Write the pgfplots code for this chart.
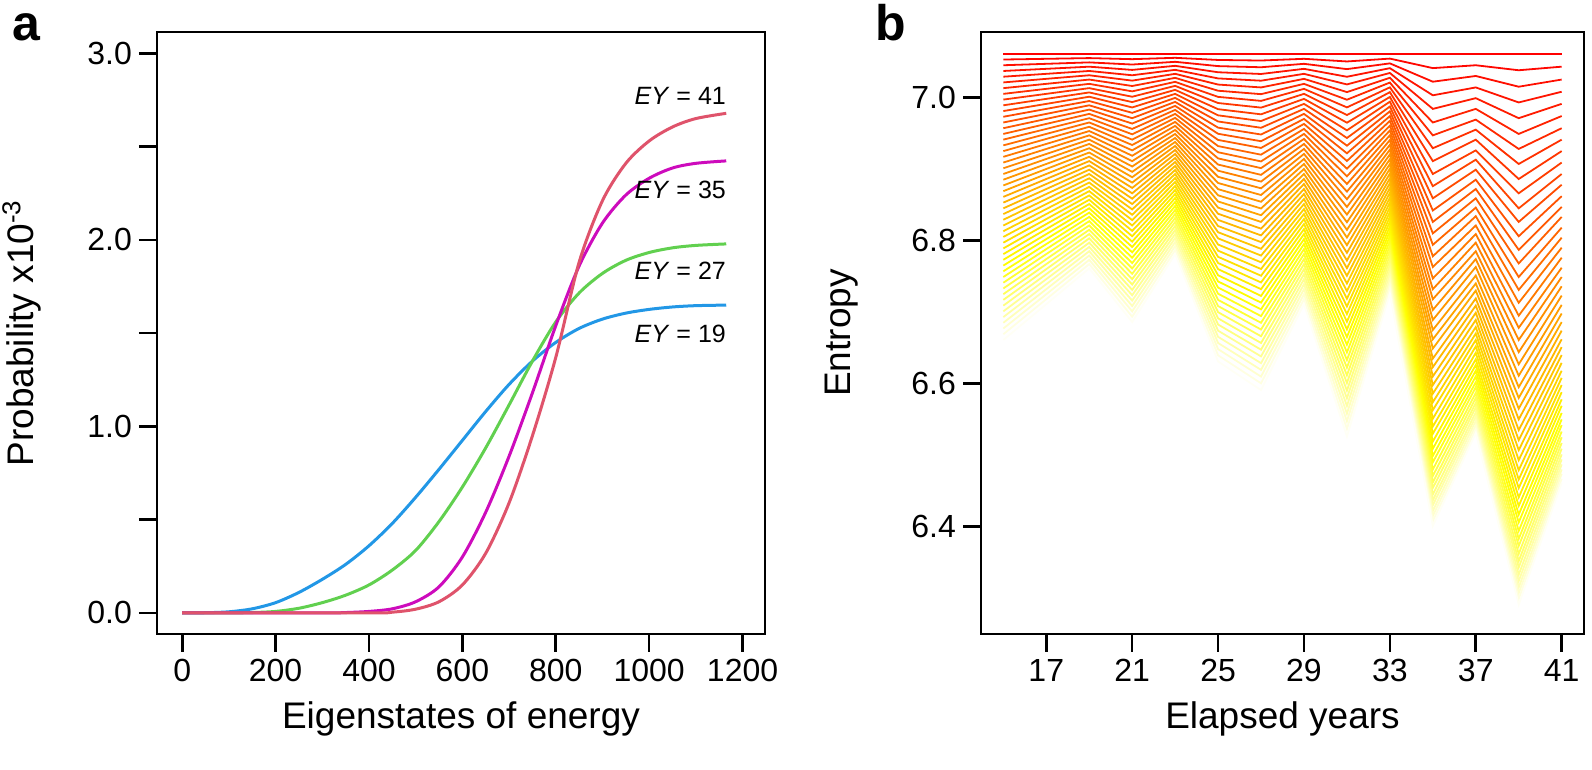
\documentclass[border=0pt]{standalone}
\usepackage{fontspec}
\setmainfont{Liberation Sans}
\usepackage{pgfplots}
\usepackage{pgfplotstable}
\pgfplotsset{compat=1.18}
\definecolor{cblue}{HTML}{2297E6}
\definecolor{cgreen}{HTML}{61D04F}
\definecolor{cmag}{HTML}{CD0BBC}
\definecolor{cred}{HTML}{DF536B}
\foreach \i in {0,...,50}{%
  \pgfmathsetmacro\gg{min(1,\i/37.5)}%
  \pgfmathsetmacro\bb{max(0,(\i-37.5)/12.5)*0.96}%
  \xglobal\definecolor{fan\i}{rgb}{1,\gg,\bb}%
}
\pgfplotstableread{
year c0 c1 c2 c3 c4 c5 c6 c7 c8 c9 c10 c11 c12 c13 c14 c15 c16 c17 c18 c19 c20 c21 c22 c23 c24 c25 c26 c27 c28 c29 c30 c31 c32 c33 c34 c35 c36 c37 c38 c39 c40 c41 c42 c43 c44 c45 c46 c47 c48 c49 c50
15 7.061 7.053 7.045 7.037 7.029 7.021 7.013 7.005 6.997 6.989 6.981 6.973 6.965 6.957 6.949 6.941 6.933 6.925 6.917 6.909 6.901 6.893 6.885 6.877 6.869 6.861 6.853 6.845 6.837 6.829 6.821 6.813 6.805 6.797 6.789 6.781 6.773 6.765 6.757 6.749 6.741 6.733 6.725 6.717 6.709 6.701 6.693 6.685 6.677 6.669 6.661
17 7.061 7.054 7.047 7.040 7.033 7.026 7.019 7.012 7.005 6.998 6.991 6.984 6.977 6.970 6.963 6.956 6.949 6.942 6.935 6.928 6.921 6.914 6.907 6.900 6.893 6.886 6.879 6.872 6.865 6.858 6.851 6.844 6.837 6.830 6.823 6.816 6.809 6.802 6.795 6.788 6.781 6.774 6.767 6.760 6.753 6.746 6.739 6.732 6.725 6.718 6.711
19 7.061 7.055 7.049 7.043 7.037 7.031 7.025 7.019 7.013 7.007 7.001 6.995 6.989 6.983 6.977 6.971 6.965 6.959 6.953 6.947 6.941 6.935 6.929 6.923 6.917 6.911 6.905 6.899 6.893 6.887 6.881 6.875 6.869 6.863 6.857 6.851 6.845 6.839 6.833 6.827 6.821 6.815 6.809 6.803 6.797 6.791 6.785 6.779 6.773 6.767 6.761
21 7.061 7.0535 7.046 7.0385 7.031 7.0235 7.016 7.0085 7.001 6.9935 6.986 6.9785 6.971 6.9635 6.956 6.9485 6.941 6.9335 6.926 6.9185 6.911 6.9035 6.896 6.8885 6.881 6.8735 6.866 6.8585 6.851 6.8435 6.836 6.8285 6.821 6.8135 6.806 6.7985 6.791 6.7835 6.776 6.7685 6.761 6.7535 6.746 6.7385 6.731 6.7235 6.716 6.7085 6.701 6.6935 6.686
23 7.061 7.0554 7.0498 7.0442 7.0386 7.033 7.0274 7.0218 7.0162 7.0106 7.005 6.9994 6.9938 6.9882 6.9826 6.977 6.9714 6.9658 6.9602 6.9546 6.949 6.9434 6.9378 6.9322 6.9266 6.921 6.9154 6.9098 6.9042 6.8986 6.893 6.8874 6.8818 6.8762 6.8706 6.865 6.8594 6.8538 6.8482 6.8426 6.837 6.8314 6.8258 6.8202 6.8146 6.809 6.8034 6.7978 6.7922 6.7866 6.781
25 7.061 7.0524 7.0438 7.0352 7.0266 7.018 7.0094 7.0008 6.9922 6.9836 6.975 6.9664 6.9578 6.9492 6.9406 6.932 6.9234 6.9148 6.9062 6.8976 6.889 6.8804 6.8718 6.8632 6.8546 6.846 6.8374 6.8288 6.8202 6.8116 6.803 6.7944 6.7858 6.7772 6.7686 6.76 6.7514 6.7428 6.7342 6.7256 6.717 6.7084 6.6998 6.6912 6.6826 6.674 6.6654 6.6568 6.6482 6.6396 6.631
27 7.061 7.0516 7.0422 7.0328 7.0234 7.014 7.0046 6.9952 6.9858 6.9764 6.967 6.9576 6.9482 6.9388 6.9294 6.92 6.9106 6.9012 6.8918 6.8824 6.873 6.8636 6.8542 6.8448 6.8354 6.826 6.8166 6.8072 6.7978 6.7884 6.779 6.7696 6.7602 6.7508 6.7414 6.732 6.7226 6.7132 6.7038 6.6944 6.685 6.6756 6.6662 6.6568 6.6474 6.638 6.6286 6.6192 6.6098 6.6004 6.591
29 7.061 7.054 7.047 7.040 7.033 7.026 7.019 7.012 7.005 6.998 6.991 6.984 6.977 6.970 6.963 6.956 6.949 6.942 6.935 6.928 6.921 6.914 6.907 6.900 6.893 6.886 6.879 6.872 6.865 6.858 6.851 6.844 6.837 6.830 6.823 6.816 6.809 6.802 6.795 6.788 6.781 6.774 6.767 6.760 6.753 6.746 6.739 6.732 6.725 6.718 6.711
31 7.061 7.0503 7.0396 7.0289 7.0182 7.0075 6.9968 6.9861 6.9754 6.9647 6.954 6.9433 6.9326 6.9219 6.9112 6.9005 6.8898 6.8791 6.8684 6.8577 6.847 6.8363 6.8256 6.8149 6.8042 6.7935 6.7828 6.7721 6.7614 6.7507 6.74 6.7293 6.7186 6.7079 6.6972 6.6865 6.6758 6.6651 6.6544 6.6437 6.633 6.6223 6.6116 6.6009 6.5902 6.5795 6.5688 6.5581 6.5474 6.5367 6.526
33 7.061 7.0543 7.0476 7.0409 7.0342 7.0275 7.0208 7.0141 7.0074 7.0007 6.994 6.9873 6.9806 6.9739 6.9672 6.9605 6.9538 6.9471 6.9404 6.9337 6.927 6.9203 6.9136 6.9069 6.9002 6.8935 6.8868 6.8801 6.8734 6.8667 6.86 6.8533 6.8466 6.8399 6.8332 6.8265 6.8198 6.8131 6.8064 6.7997 6.793 6.7863 6.7796 6.7729 6.7662 6.7595 6.7528 6.7461 6.7394 6.7327 6.726
35 7.061 7.041 7.022 7.003 6.984 6.965 6.947 6.929 6.911 6.893 6.876 6.859 6.842 6.826 6.810 6.794 6.778 6.763 6.747 6.732 6.718 6.703 6.689 6.675 6.662 6.649 6.635 6.623 6.610 6.598 6.586 6.574 6.563 6.551 6.540 6.530 6.519 6.509 6.499 6.490 6.480 6.471 6.462 6.454 6.445 6.437 6.430 6.422 6.415 6.408 6.401
37 7.061 7.045 7.030 7.014 6.999 6.984 6.969 6.955 6.941 6.926 6.913 6.899 6.885 6.872 6.859 6.846 6.834 6.821 6.809 6.797 6.785 6.774 6.763 6.751 6.740 6.730 6.719 6.709 6.699 6.689 6.679 6.670 6.661 6.652 6.643 6.634 6.626 6.618 6.610 6.602 6.595 6.587 6.580 6.573 6.567 6.560 6.554 6.548 6.542 6.536 6.531
39 7.061 7.038 7.015 6.993 6.971 6.949 6.928 6.907 6.886 6.866 6.845 6.826 6.806 6.787 6.768 6.749 6.731 6.713 6.695 6.678 6.661 6.644 6.627 6.611 6.595 6.580 6.565 6.550 6.535 6.521 6.507 6.493 6.479 6.466 6.454 6.441 6.429 6.417 6.406 6.394 6.383 6.373 6.362 6.352 6.343 6.333 6.324 6.315 6.307 6.299 6.291
41 7.061 7.043 7.025 7.008 6.991 6.974 6.957 6.941 6.925 6.909 6.893 6.878 6.862 6.847 6.833 6.818 6.804 6.790 6.776 6.762 6.749 6.736 6.723 6.710 6.698 6.686 6.674 6.662 6.651 6.640 6.629 6.618 6.608 6.598 6.588 6.578 6.569 6.559 6.550 6.542 6.533 6.525 6.517 6.509 6.501 6.494 6.487 6.480 6.474 6.467 6.461
}\fan
\pgfplotsset{
  rstyle/.style={
    scale only axis, anchor=south west,
    tick align=outside, xtick pos=bottom, ytick pos=left,
    major tick length=9pt,
    tick style={line width=1.3pt, black},
    axis line style={line width=1.3pt},
    tick label style={font=\fontsize{16}{19}\selectfont},
  }
}
\begin{document}
\begin{tikzpicture}[x=1pt,y=1pt]
\useasboundingbox (0,0) rectangle (796,385);
% ---------- panel a ----------
\begin{axis}[rstyle, at={(78.5pt,68pt)}, width=304pt, height=301pt,
  xmin=-54, xmax=1248, ymin=-0.113, ymax=3.114,
  xtick={0,200,400,600,800,1000,1200}, xticklabels={0,200,400,600,800,1000,1200},
  ytick={0,0.5,1,1.5,2,2.5,3}, yticklabels={0.0,,1.0,,2.0,,3.0}]
\addplot[cblue, line width=1.5pt, smooth] coordinates {
(0,0) (50,0.001) (100,0.006) (150,0.022) (200,0.055) (250,0.11) (300,0.18) (350,0.26) (400,0.36) (450,0.48) (500,0.62) (550,0.77) (600,0.925) (650,1.08) (700,1.225) (750,1.35) (800,1.45) (850,1.525) (900,1.575) (950,1.607) (1000,1.627) (1050,1.64) (1100,1.647) (1165,1.65)};
\addplot[cgreen, line width=1.5pt, smooth] coordinates {
(0,0) (100,0) (150,0.002) (200,0.008) (250,0.025) (300,0.055) (350,0.095) (400,0.15) (450,0.23) (500,0.335) (550,0.49) (600,0.675) (650,0.885) (700,1.115) (750,1.35) (800,1.56) (850,1.715) (900,1.82) (950,1.89) (1000,1.932) (1050,1.957) (1100,1.97) (1165,1.978)};
\addplot[cmag, line width=1.5pt, smooth] coordinates {
(0,0) (300,0) (350,0.002) (400,0.008) (450,0.022) (500,0.06) (550,0.14) (600,0.3) (650,0.54) (700,0.84) (750,1.18) (800,1.54) (850,1.86) (900,2.09) (950,2.24) (1000,2.33) (1050,2.385) (1100,2.41) (1165,2.423)};
\addplot[cred, line width=1.5pt, smooth] coordinates {
(0,0) (400,0) (450,0.004) (500,0.02) (550,0.06) (600,0.15) (650,0.32) (700,0.59) (750,0.95) (800,1.37) (850,1.88) (900,2.21) (950,2.41) (1000,2.53) (1050,2.605) (1100,2.65) (1165,2.678)};
\node[anchor=east, inner sep=0pt, font=\fontsize{12.5}{14}\selectfont] at (axis cs:1165,2.771) {\textit{EY} = 41};
\node[anchor=east, inner sep=0pt, font=\fontsize{12.5}{14}\selectfont] at (axis cs:1165,2.268) {\textit{EY} = 35};
\node[anchor=east, inner sep=0pt, font=\fontsize{12.5}{14}\selectfont] at (axis cs:1165,1.834) {\textit{EY} = 27};
\node[anchor=east, inner sep=0pt, font=\fontsize{12.5}{14}\selectfont] at (axis cs:1165,1.496) {\textit{EY} = 19};
\end{axis}
% ---------- panel b ----------
\begin{axis}[rstyle, at={(490.5pt,68pt)}, width=301.5pt, height=301pt,
  xmin=13.96, xmax=42.04, ymin=6.25, ymax=7.0915,
  xtick={17,21,25,29,33,37,41}, xticklabels={17,21,25,29,33,37,41},
  ytick={6.4,6.6,6.8,7.0}, yticklabels={6.4,6.6,6.8,7.0}]
\pgfplotsinvokeforeach{0,...,50}{
  \addplot[draw=fan#1, line width=0.9pt] table[x=year, y=c#1] {\fan};
}
\end{axis}
% ---------- labels ----------
\node[anchor=base, font=\fontsize{18.5}{22}\selectfont] at (230.5,20.5) {Eigenstates of energy};
\node[anchor=base, font=\fontsize{18.5}{22}\selectfont] at (641.25,20.5) {Elapsed years};
\node[anchor=base, rotate=90, font=\fontsize{18.5}{22}\selectfont] at (16.5,218.5) {Probability x10\textsuperscript{-3}};
\node[anchor=base, rotate=90, font=\fontsize{18.5}{22}\selectfont] at (425,218.5) {Entropy};
\node[anchor=base west, inner sep=0pt, font=\bfseries\fontsize{25}{30}\selectfont] at (6,364.5) {a};
\node[anchor=base west, inner sep=0pt, font=\bfseries\fontsize{25}{30}\selectfont] at (437.5,364.5) {b};
\end{tikzpicture}
\end{document}
